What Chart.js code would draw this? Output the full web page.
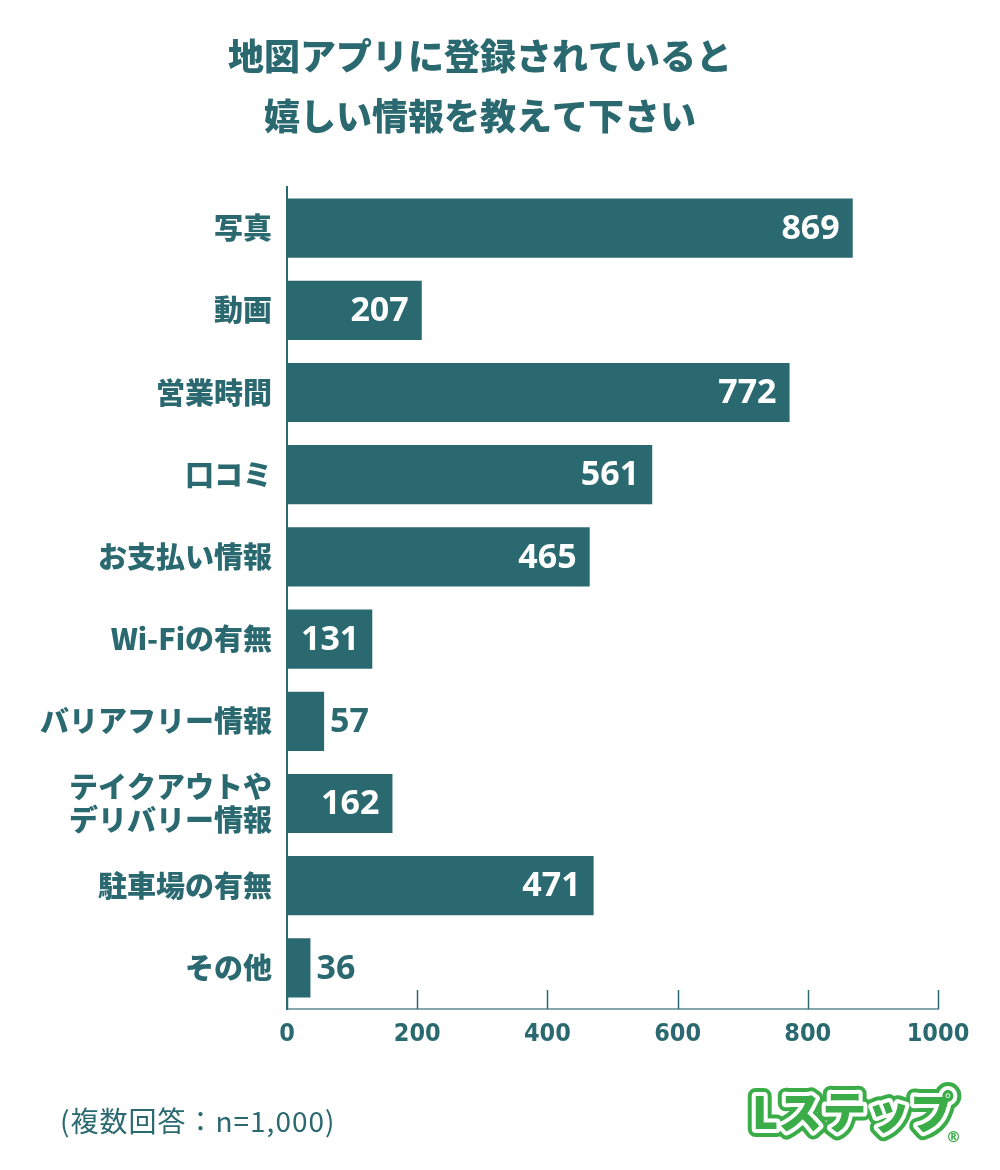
<!DOCTYPE html>
<html>
<head>
<meta charset="utf-8">
<script src="https://cdn.jsdelivr.net/npm/chart.js@4/dist/chart.umd.min.js"></script>
<style>
  html, body { margin: 0; padding: 0; background: #ffffff; }
  #wrap { width: 1000px; height: 1170px; }
</style>
</head>
<body>
<div id="wrap"><canvas id="c" width="1000" height="1170"></canvas></div>
<script>
const titleLines = ['地図アプリに登録されていると', '嬉しい情報を教えて下さい'];
const categories = [
  '写真',
  '動画',
  '営業時間',
  '口コミ',
  'お支払い情報',
  'Wi-Fiの有無',
  'バリアフリー情報',
  ['テイクアウトや', 'デリバリー情報'],
  '駐車場の有無',
  'その他'
];
const values = [869, 207, 772, 561, 465, 131, 57, 162, 471, 36];
const xMin = 0;
const xMax = 1000;
const xStep = 200;
const footnote = '(複数回答：n=1,000)';
const logoText = 'Lステップ';

const TEAL = '#2b6971';
const JP = "'Noto Sans CJK JP', 'Noto Sans', sans-serif";
const NARROW = "'Liberation Sans Narrow', 'DejaVu Sans Condensed', 'Roboto', sans-serif";

const extras = {
  id: 'extras',
  afterDatasetsDraw(chart) {
    const ctx = chart.ctx;
    const meta = chart.getDatasetMeta(0);
    ctx.save();
    ctx.font = 'bold 34px ' + "'Noto Sans', 'DejaVu Sans', sans-serif";
    ctx.textBaseline = 'middle';
    meta.data.forEach((bar, i) => {
      const txt = String(values[i]);
      const w = ctx.measureText(txt).width;
      const len = bar.x - bar.base;
      if (len > w + 16) {
        ctx.fillStyle = '#ffffff';
        ctx.textAlign = 'right';
        ctx.fillText(txt, bar.x - 13, bar.y + 1);
      } else {
        ctx.fillStyle = TEAL;
        ctx.textAlign = 'left';
        ctx.fillText(txt, bar.x + 6, bar.y + 1);
      }
    });
    ctx.restore();
  },
  afterDraw(chart) {
    const ctx = chart.ctx;
    const xs = chart.scales.x;
    const area = chart.chartArea;
    ctx.save();
    // upward tick marks
    ctx.strokeStyle = TEAL;
    ctx.lineWidth = 1.5;
    xs.ticks.forEach(t => {
      const px = Math.round(xs.getPixelForValue(t.value)) + 0.5;
      ctx.beginPath();
      ctx.moveTo(px, area.bottom - 19);
      ctx.lineTo(px, area.bottom);
      ctx.stroke();
    });
    // footnote
    ctx.fillStyle = TEAL;
    ctx.font = '28px ' + JP;
    ctx.textAlign = 'left';
    ctx.textBaseline = 'middle';
    if ('letterSpacing' in ctx) ctx.letterSpacing = '1px';
    ctx.fillText(footnote, 60, 1121);
    if ('letterSpacing' in ctx) ctx.letterSpacing = '0px';
    // logo
    ctx.font = '900 44px ' + JP;
    ctx.textAlign = 'left';
    ctx.textBaseline = 'middle';
    ctx.lineJoin = 'round';
    const lx = 752, ly = 1112;
    ctx.strokeStyle = '#3aad48';
    ctx.lineWidth = 16;
    ctx.strokeText(logoText, lx, ly);
    ctx.strokeStyle = '#ffffff';
    ctx.lineWidth = 8;
    ctx.strokeText(logoText, lx, ly);
    ctx.fillStyle = '#3aad48';
    ctx.fillText(logoText, lx, ly);
    ctx.font = 'bold 15px ' + "'DejaVu Sans', sans-serif";
    ctx.fillText('®', 946, 1138);
    ctx.restore();
  }
};

new Chart(document.getElementById('c'), {
  type: 'bar',
  data: {
    labels: categories,
    datasets: [{
      data: values,
      backgroundColor: TEAL,
      borderWidth: 0,
      barPercentage: 0.72,
      categoryPercentage: 1.0
    }]
  },
  options: {
    indexAxis: 'y',
    responsive: false,
    animation: false,
    devicePixelRatio: 1,
    layout: { padding: { left: 22, right: 62, top: 0, bottom: 0 } },
    plugins: {
      legend: { display: false },
      tooltip: { enabled: false },
      title: {
        display: true,
        text: titleLines,
        color: TEAL,
        font: { family: JP, size: 36, weight: '900', lineHeight: 60 / 36 },
        padding: { top: 26, bottom: 41 }
      }
    },
    scales: {
      x: {
        min: xMin,
        max: xMax,
        ticks: {
          stepSize: xStep,
          color: TEAL,
          font: { family: NARROW, size: 25, weight: 'bold' },
          padding: 10,
          callback: v => String(v)
        },
        grid: { drawOnChartArea: false, drawTicks: false },
        border: { display: true, color: '#86a7ab', width: 2 },
        afterFit: s => { s.height = 161; }
      },
      y: {
        ticks: {
          color: TEAL,
          font: { family: JP, size: 29, weight: '900', lineHeight: 1.15 },
          padding: 15
        },
        grid: { drawOnChartArea: false, drawTicks: false },
        border: { display: true, color: TEAL, width: 2 },
        afterFit: s => { s.width = 265; }
      }
    }
  },
  plugins: [extras]
});
</script>
</body>
</html>
